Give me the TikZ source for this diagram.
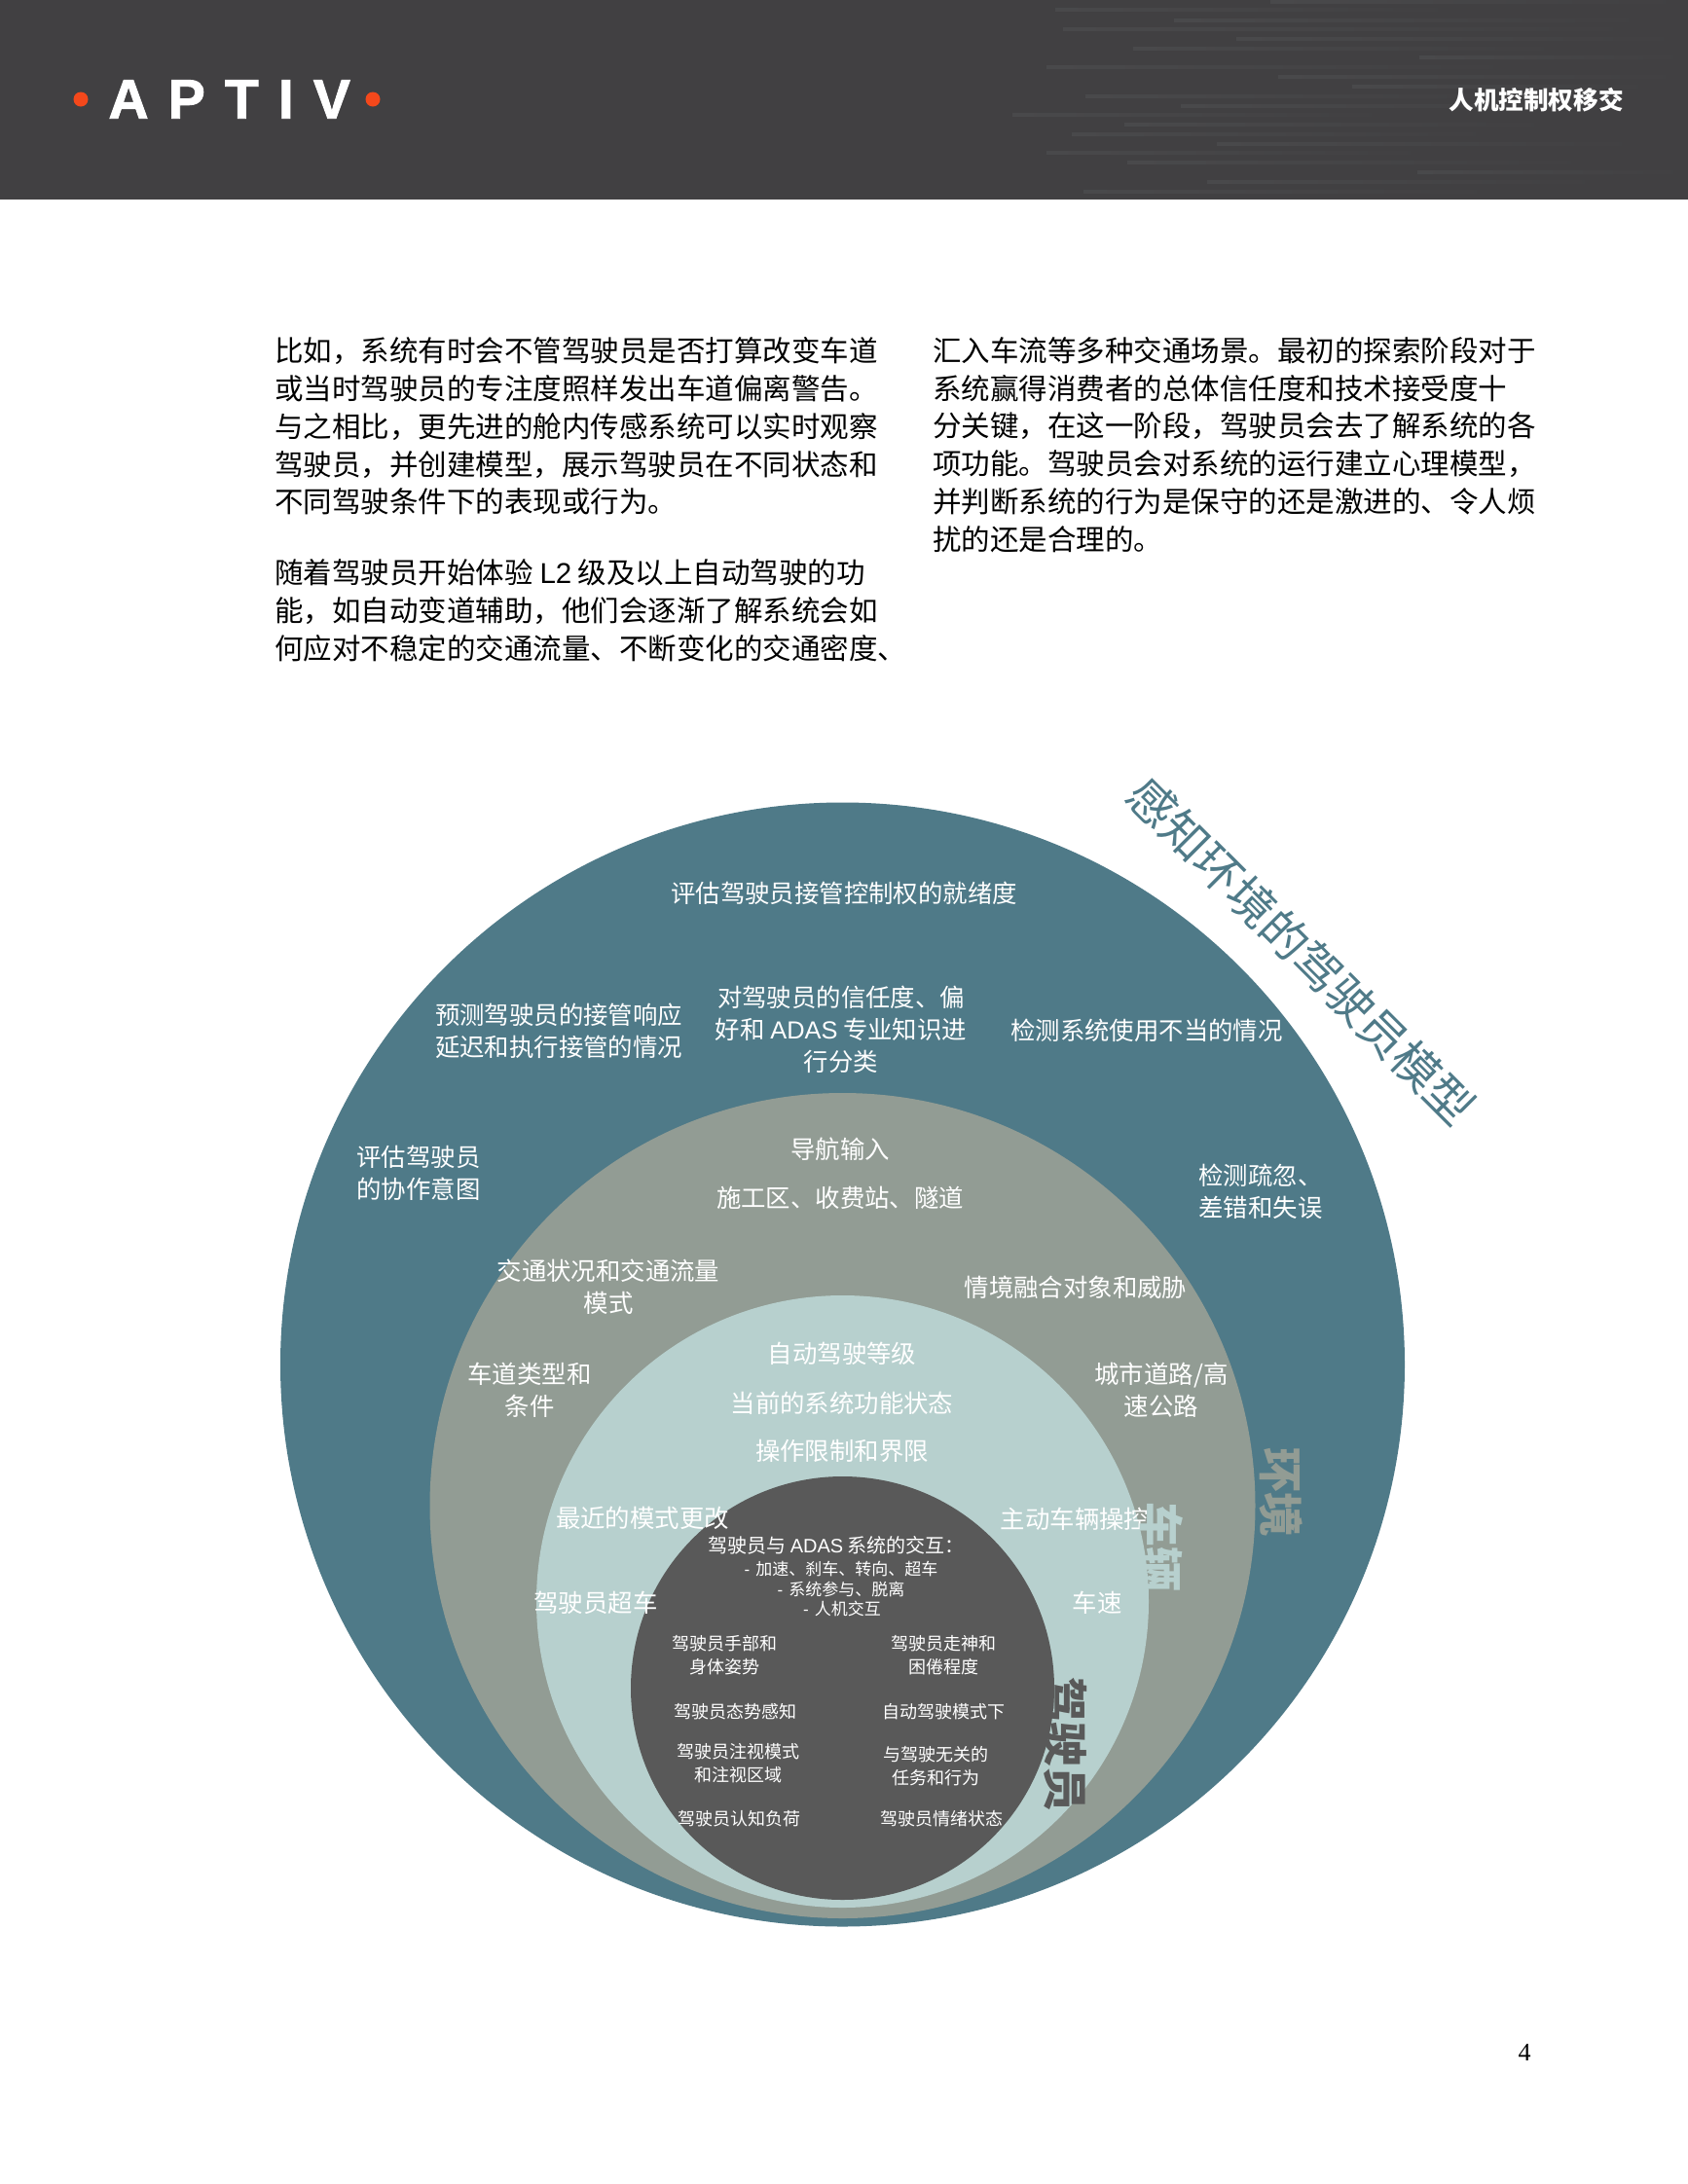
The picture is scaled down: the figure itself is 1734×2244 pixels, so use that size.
\documentclass[tikz,border=0pt]{standalone}
\usepackage{fontspec}
\setmainfont{Noto Sans CJK SC}
\newfontfamily\latinfont{Liberation Sans}
\newfontfamily\pagefont{Liberation Serif}
\newcommand{\lat}[1]{{\latinfont #1}}
\newcommand{\cm}{\symbol{"FF0C}}
\usetikzlibrary{positioning}
\definecolor{headerbg}{HTML}{414042}
\definecolor{streakgrey}{HTML}{49494B}
\definecolor{aptivorange}{HTML}{F4481B}
\definecolor{envteal}{HTML}{4F7A88}
\definecolor{vehgrey}{HTML}{929C94}
\definecolor{hmilight}{HTML}{B7D0CE}
\definecolor{driverdark}{HTML}{595959}
\tikzset{
  disc/.style={circle,draw=none,inner sep=0pt},
  bodytext/.style={anchor=west,align=left,inner sep=0pt,text=black,yshift=-0.5pt,
    font=\fontsize{14.75}{19.4}\selectfont},
  ringtext/.style={align=center,inner sep=0pt,text=white,yshift=-0.6pt,
    font=\fontsize{12.7}{16.5}\selectfont},
  innertext/.style={align=center,inner sep=0pt,text=white,yshift=-0.4pt,
    font=\fontsize{9}{12}\selectfont},
  sidelabel/.style={rotate=-90,inner sep=0pt,
    font=\fontsize{23}{23}\selectfont\bfseries},
}
\begin{document}
\begin{tikzpicture}[x=0.5pt,y=-0.5pt]
  \useasboundingbox (0,0) rectangle (1734,2244);

  \fill[headerbg] (0,0) rectangle (1734,205);
  \foreach \sy/\sx/\ex in {1/1305/1734,9/1084/1500,20/1206/1700,29/1092/1690,
      39/1270/1734,49/1164/1610,58/1458/1734,68/1075/1560,78/1313/1734,
      88/1389/1700,98/1115/1560,108/1213/1650,117/1040/1430,127/1155/1600,
      137/1101/1540,147/1250/1690,156/1075/1470,166/1158/1640,176/1456/1734,
      186/1240/1650,196/1113/1540}
    \shade[left color=streakgrey,right color=headerbg]
      (\sx,\sy-1) rectangle (\ex,\sy+2);

  \node[disc,fill=aptivorange,minimum size=7.5pt] (dotleft) at (83,102) {};
  \node[disc,fill=aptivorange,minimum size=7.5pt] (dotright) at (383,102) {};
  \node[anchor=west,inner sep=0pt,text=white,
    font=\fontsize{28.6}{30}\latinfont\bfseries\addfontfeature{LetterSpace=35,FakeBold=1.5}]
    (logo) at (111,102) {APTIV};
  \node[inner sep=0pt,text=white,font=\fontsize{12.8}{14}\selectfont\bfseries]
    (title) at (1578,103) {人机控制权移交};

  \node[bodytext] (para1) at (282,437) {比如\cm 系统有时会不管驾驶员是否打算改变车道\\
    或当时驾驶员的专注度照样发出车道偏离警告。\\
    与之相比\cm 更先进的舱内传感系统可以实时观察\\
    驾驶员\cm 并创建模型\cm 展示驾驶员在不同状态和\\
    不同驾驶条件下的表现或行为。};
  \node[bodytext] (para2) at (282,626) {随着驾驶员开始体验 \lat{L2} 级及以上自动驾驶的功\\
    能\cm 如自动变道辅助\cm 他们会逐渐了解系统会如\\
    何应对不稳定的交通流量、不断变化的交通密度、};
  \node[bodytext] (para3) at (958,456) {汇入车流等多种交通场景。最初的探索阶段对于\\
    系统赢得消费者的总体信任度和技术接受度十\\
    分关键\cm 在这一阶段\cm 驾驶员会去了解系统的各\\
    项功能。驾驶员会对系统的运行建立心理模型\cm \\
    并判断系统的行为是保守的还是激进的、令人烦\\
    扰的还是合理的。};

  \node[disc,fill=envteal,minimum size=577.5pt] (env) at (865.5,1402) {};
  \node[disc,fill=vehgrey,minimum size=424pt] (veh) at (865.5,1547) {};
  \node[disc,fill=hmilight,minimum size=314.5pt] (hmi) at (865.5,1645.5) {};
  \node[disc,fill=driverdark,minimum size=217.5pt] (drv) at (865.5,1734.5) {};

  \begin{scope}[every node/.style={ringtext}]
    \node (ready) at (867,917) {评估驾驶员接管控制权的就绪度};
    \node (predict) at (574,1058) {预测驾驶员的接管响应\\延迟和执行接管的情况};
    \node (trust) at (864,1057) {对驾驶员的信任度、偏\\好和 \lat{ADAS} 专业知识进\\行分类};
    \node (misuse) at (1178,1058) {检测系统使用不当的情况};
    \node (intent) at (430,1204) {评估驾驶员\\的协作意图};
    \node (lapse) at (1295,1223) {检测疏忽、\\差错和失误};

    \node (navin) at (863,1180) {导航输入};
    \node (zones) at (863,1230) {施工区、收费站、隧道};
    \node (traffic) at (625,1321) {交通状况和交通流量\\模式};
    \node (fusion) at (1105,1322) {情境融合对象和威胁};
    \node (lanes) at (544,1427) {车道类型和\\条件};
    \node (urban) at (1193,1427) {城市道路/高\\速公路};

    \node (level) at (865,1390) {自动驾驶等级};
    \node (state) at (865,1441) {当前的系统功能状态};
    \node (limits) at (865,1490) {操作限制和界限};
    \node (modes) at (660,1559) {最近的模式更改};
    \node (overtake) at (612,1646) {驾驶员超车};
    \node (active) at (1104,1560) {主动车辆操控};
    \node (speed) at (1127,1646) {车速};
  \end{scope}

  \node[inner sep=0pt,text=white,font=\fontsize{10}{12}\selectfont] (adas) at (859,1588)
    {驾驶员与 \lat{ADAS} 系统的交互\symbol{"FF1A}};
  \begin{scope}[every node/.style={inner sep=0pt,text=white,font=\fontsize{8.5}{10}\selectfont}]
    \node (adas1) at (864,1612) {\lat{-}\hspace{3pt}加速、刹车、转向、超车};
    \node (adas2) at (864,1633) {\lat{-}\hspace{3pt}系统参与、脱离};
    \node (adas3) at (865,1653) {\lat{-}\hspace{3pt}人机交互};
  \end{scope}

  \begin{scope}[every node/.style={innertext}]
    \node (hands) at (744,1700) {驾驶员手部和\\身体姿势};
    \node (drowsy) at (969,1700) {驾驶员走神和\\困倦程度};
    \node (aware) at (755,1758) {驾驶员态势感知};
    \node (automode) at (969,1758) {自动驾驶模式下};
    \node (gaze) at (758,1811) {驾驶员注视模式\\和注视区域};
    \node (tasks) at (961,1814) {与驾驶无关的\\任务和行为};
    \node (load) at (759,1868) {驾驶员认知负荷};
    \node (mood) at (967,1868) {驾驶员情绪状态};
  \end{scope}

  \node[inner sep=0pt,text=envteal,rotate=-45,font=\fontsize{24}{26}\selectfont]
    (model) at (1337,977) {感知环境的驾驶员模型};
  \node[sidelabel,text=vehgrey] (envlabel) at (1316,1533) {环境};
  \node[sidelabel,text=hmilight] (vehlabel) at (1193,1589) {车辆};
  \node[sidelabel,text=driverdark] (drvlabel) at (1095,1792) {驾驶员};

  \node[inner sep=0pt,font=\fontsize{13}{14}\pagefont] (pagenum) at (1566,2109) {4};
\end{tikzpicture}
\end{document}
